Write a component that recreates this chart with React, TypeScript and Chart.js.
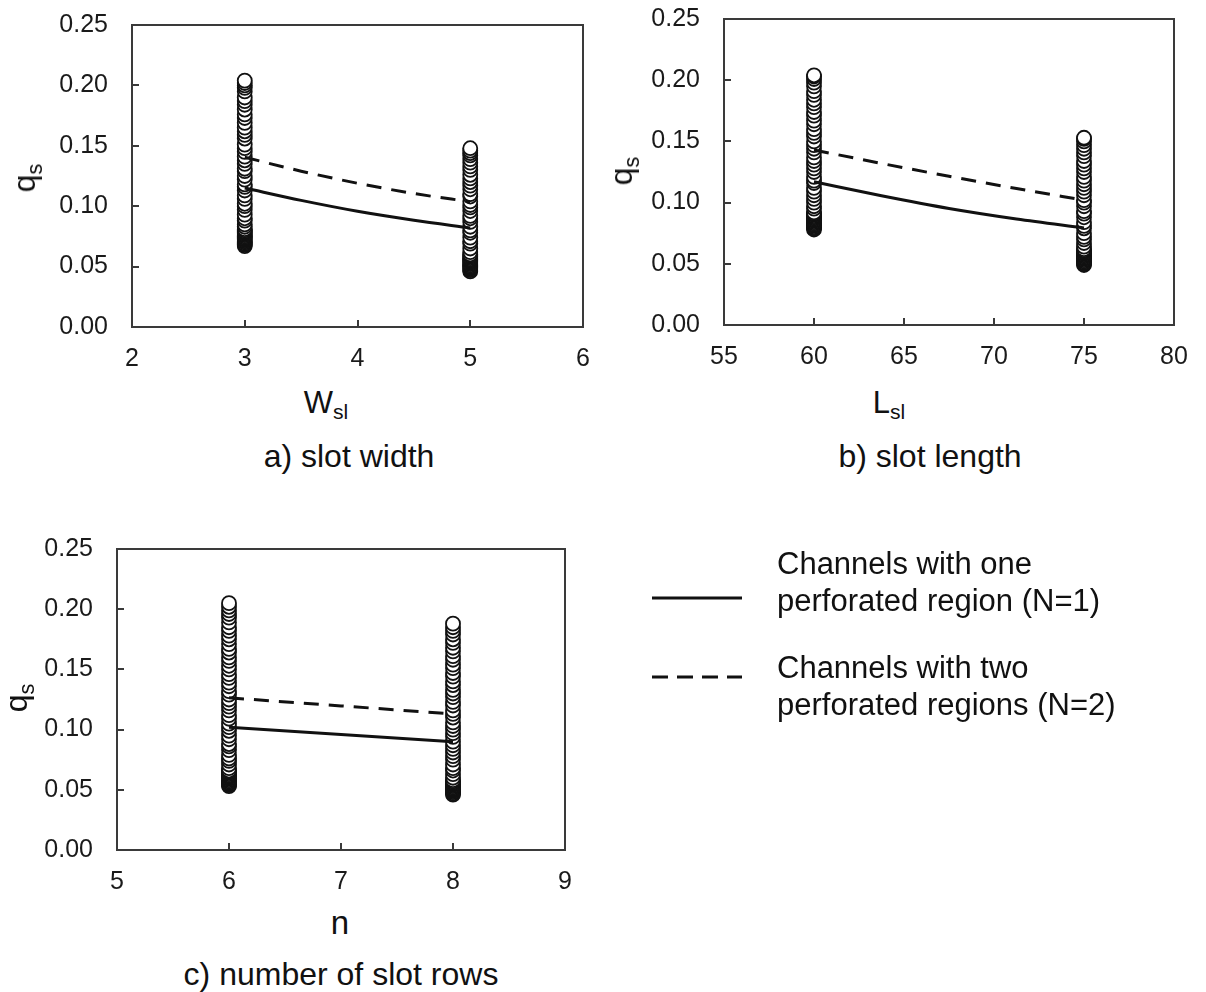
import React, { useEffect, useRef } from "react";
import { Chart, registerables } from "chart.js";

Chart.register(...registerables);

const FONT = "'Liberation Sans', Arial, Helvetica, sans-serif";

// ---------- data ----------
const yTicksMin = 0;
const yTicksMax = 0.25;
const yTickStep = 0.05;

// panel a) slot width
const aXRange = [2, 6];
const aColX = [3, 5];
const aCol3 = [0.067, 0.068, 0.069, 0.070, 0.071, 0.072, 0.073, 0.074, 0.075, 0.076, 0.077, 0.078, 0.079, 0.080, 0.081, 0.083, 0.085, 0.088, 0.090, 0.093, 0.097, 0.100, 0.102, 0.106, 0.109, 0.113, 0.116, 0.118, 0.122, 0.125, 0.129, 0.131, 0.135, 0.138, 0.141, 0.145, 0.148, 0.151, 0.156, 0.159, 0.162, 0.165, 0.169, 0.173, 0.176, 0.180, 0.184, 0.187, 0.190, 0.195, 0.198, 0.200, 0.202, 0.204];
const aCol5 = [0.046, 0.047, 0.048, 0.049, 0.050, 0.051, 0.052, 0.053, 0.054, 0.055, 0.056, 0.057, 0.058, 0.059, 0.060, 0.062, 0.065, 0.069, 0.071, 0.074, 0.078, 0.080, 0.083, 0.087, 0.090, 0.092, 0.096, 0.099, 0.101, 0.104, 0.108, 0.110, 0.114, 0.117, 0.120, 0.123, 0.126, 0.130, 0.133, 0.136, 0.139, 0.142, 0.144, 0.146, 0.148];
const aLineX = [3, 3.5, 4, 4.5, 5];
const aN1 = [0.115, 0.1048, 0.0958, 0.0884, 0.082];
const aN2 = [0.1405, 0.129, 0.119, 0.1105, 0.1037];

// panel b) slot length
const bXRange = [55, 80];
const bColX = [60, 75];
const bCol60 = [0.078, 0.079, 0.080, 0.081, 0.082, 0.083, 0.084, 0.085, 0.086, 0.087, 0.088, 0.089, 0.090, 0.091, 0.092, 0.095, 0.097, 0.100, 0.103, 0.106, 0.109, 0.112, 0.116, 0.118, 0.121, 0.125, 0.128, 0.131, 0.134, 0.137, 0.141, 0.144, 0.147, 0.150, 0.154, 0.157, 0.160, 0.164, 0.167, 0.171, 0.174, 0.178, 0.181, 0.184, 0.188, 0.191, 0.195, 0.198, 0.201, 0.203, 0.204];
const bCol75 = [0.049, 0.050, 0.051, 0.052, 0.053, 0.054, 0.055, 0.056, 0.057, 0.058, 0.059, 0.060, 0.061, 0.062, 0.064, 0.067, 0.070, 0.072, 0.075, 0.079, 0.081, 0.084, 0.088, 0.091, 0.093, 0.097, 0.100, 0.102, 0.106, 0.109, 0.112, 0.115, 0.118, 0.121, 0.125, 0.128, 0.131, 0.134, 0.138, 0.141, 0.144, 0.147, 0.150, 0.152, 0.153];
const bLineX = [60, 63.75, 67.5, 71.25, 75];
const bN1 = [0.117, 0.1056, 0.0952, 0.0866, 0.0793];
const bN2 = [0.143, 0.132, 0.1215, 0.1115, 0.102];

// panel c) number of slot rows
const cXRange = [5, 9];
const cColX = [6, 8];
const cCol6 = [0.053, 0.054, 0.055, 0.056, 0.057, 0.058, 0.059, 0.060, 0.061, 0.062, 0.063, 0.064, 0.065, 0.066, 0.068, 0.071, 0.074, 0.076, 0.079, 0.083, 0.086, 0.088, 0.092, 0.095, 0.099, 0.102, 0.105, 0.109, 0.112, 0.116, 0.119, 0.122, 0.125, 0.129, 0.132, 0.136, 0.139, 0.143, 0.146, 0.150, 0.153, 0.157, 0.160, 0.164, 0.167, 0.171, 0.175, 0.178, 0.182, 0.185, 0.189, 0.193, 0.196, 0.199, 0.202, 0.205];
const cCol8 = [0.046, 0.047, 0.048, 0.049, 0.050, 0.051, 0.052, 0.053, 0.054, 0.055, 0.056, 0.057, 0.058, 0.060, 0.063, 0.066, 0.068, 0.071, 0.075, 0.078, 0.081, 0.084, 0.087, 0.090, 0.094, 0.097, 0.100, 0.103, 0.106, 0.110, 0.113, 0.116, 0.120, 0.123, 0.127, 0.130, 0.133, 0.137, 0.140, 0.144, 0.147, 0.151, 0.154, 0.158, 0.161, 0.165, 0.168, 0.172, 0.175, 0.179, 0.182, 0.185, 0.188];
const cLineX = [6, 7, 8];
const cN1 = [0.102, 0.096, 0.090];
const cN2 = [0.1264, 0.1197, 0.113];

const legendLabels = [
  ["Channels with one", "perforated region (N=1)"],
  ["Channels with two", "perforated regions (N=2)"],
];

// ---------- layout ----------
const Y_AXIS_W = 110;
const X_AXIS_H = 50;
const PAD_TOP = 45;
const PAD_RIGHT = 32;

const framePlugin = {
  id: "frame",
  afterDraw(chart: any) {
    const { ctx, chartArea: a, scales } = chart;
    const x = scales.x;
    const y = scales.y;
    ctx.save();
    ctx.strokeStyle = "#3a3a3a";
    ctx.lineWidth = 2;
    ctx.strokeRect(a.left, a.top, a.right - a.left, a.bottom - a.top);
    ctx.beginPath();
    y.ticks.forEach((t: any) => {
      if (t.value > y.min + 1e-9 && t.value < y.max - 1e-9) {
        const py = Math.round(y.getPixelForValue(t.value));
        ctx.moveTo(a.left, py);
        ctx.lineTo(a.left + 7, py);
      }
    });
    x.ticks.forEach((t: any) => {
      if (t.value > x.min + 1e-9 && t.value < x.max - 1e-9) {
        const px = Math.round(x.getPixelForValue(t.value));
        ctx.moveTo(px, a.bottom);
        ctx.lineTo(px, a.bottom - 7);
      }
    });
    ctx.stroke();
    ctx.restore();
  },
};

type PanelProps = {
  L: number; R: number; T: number; B: number;
  xRange: number[];
  xStep: number;
  cols: { x: number; ys: number[] }[];
  lineX: number[];
  n1: number[];
  n2: number[];
  curved: boolean;
};

function Panel(p: PanelProps) {
  const ref = useRef<HTMLCanvasElement | null>(null);
  const width = Y_AXIS_W + (p.R - p.L) + PAD_RIGHT;
  const height = PAD_TOP + (p.B - p.T) + X_AXIS_H;
  useEffect(() => {
    if (!ref.current) return;
    const colSets = p.cols.map((c) => ({
      type: "scatter" as const,
      data: c.ys.map((v) => ({ x: c.x, y: v })),
      backgroundColor: "#ffffff",
      borderColor: "#111111",
      borderWidth: 1.8,
      pointRadius: 7,
      pointHoverRadius: 7,
      showLine: false,
      order: 2,
    }));
    const mkLine = (ys: number[], dash: number[]) => ({
      type: "line" as const,
      data: ys.map((v, i) => ({ x: p.lineX[i], y: v })),
      borderColor: "#111111",
      borderWidth: 3,
      borderDash: dash,
      pointRadius: 0,
      fill: false,
      cubicInterpolationMode: p.curved ? ("monotone" as const) : ("default" as const),
      tension: 0,
      order: 1,
    });
    const chart = new Chart(ref.current, {
      type: "scatter",
      data: {
        datasets: [mkLine(p.n1, []), mkLine(p.n2, [15, 10]), ...colSets] as any,
      },
      options: {
        animation: false,
        responsive: false,
        devicePixelRatio: 1,
        layout: { padding: { top: PAD_TOP, right: PAD_RIGHT, left: 0, bottom: 0 } },
        plugins: { legend: { display: false }, tooltip: { enabled: false } },
        events: [],
        scales: {
          x: {
            type: "linear",
            min: p.xRange[0],
            max: p.xRange[1],
            grid: { display: false, drawTicks: false },
            border: { display: false },
            ticks: {
              stepSize: p.xStep,
              padding: 17,
              color: "#1a1a1a",
              font: { family: FONT, size: 25 },
              maxRotation: 0,
              autoSkip: false,
            },
            afterFit: (s: any) => { s.height = X_AXIS_H; },
          },
          y: {
            type: "linear",
            min: yTicksMin,
            max: yTicksMax,
            grid: { display: false, drawTicks: false },
            border: { display: false },
            ticks: {
              stepSize: yTickStep,
              padding: 24,
              color: "#1a1a1a",
              font: { family: FONT, size: 25 },
              callback: (v: any) => Number(v).toFixed(2),
            },
            afterFit: (s: any) => { s.width = Y_AXIS_W; },
          },
        },
      },
      plugins: [framePlugin],
    });
    return () => chart.destroy();
  }, []);
  return (
    <canvas
      ref={ref}
      width={width}
      height={height}
      style={{
        position: "absolute",
        left: p.L - Y_AXIS_W,
        top: p.T - PAD_TOP,
        width,
        height,
      }}
    />
  );
}

const txtBase: React.CSSProperties = {
  position: "absolute",
  fontFamily: FONT,
  color: "#111",
  whiteSpace: "nowrap",
  lineHeight: 1,
};

function CText(props: { x: number; y: number; size: number; rotate?: boolean; children: React.ReactNode }) {
  return (
    <div
      style={{
        ...txtBase,
        left: props.x,
        top: props.y,
        fontSize: props.size,
        transform: `translate(-50%, -50%)${props.rotate ? " rotate(-90deg)" : ""}`,
      }}
    >
      {props.children}
    </div>
  );
}

const Sub = (props: { children: React.ReactNode }) => (
  <span style={{ fontSize: "0.68em", position: "relative", top: "0.3em" }}>{props.children}</span>
);

export default function App() {
  return (
    <div style={{ position: "absolute", left: 0, top: 0, width: 1206, height: 992, background: "#fff", overflow: "hidden" }}>
      <Panel L={132} R={583} T={25} B={327} xRange={aXRange} xStep={1}
        cols={[{ x: aColX[0], ys: aCol3 }, { x: aColX[1], ys: aCol5 }]}
        lineX={aLineX} n1={aN1} n2={aN2} curved={true} />
      <Panel L={724} R={1174} T={19} B={325} xRange={bXRange} xStep={5}
        cols={[{ x: bColX[0], ys: bCol60 }, { x: bColX[1], ys: bCol75 }]}
        lineX={bLineX} n1={bN1} n2={bN2} curved={true} />
      <Panel L={117} R={565} T={549} B={850} xRange={cXRange} xStep={1}
        cols={[{ x: cColX[0], ys: cCol6 }, { x: cColX[1], ys: cCol8 }]}
        lineX={cLineX} n1={cN1} n2={cN2} curved={false} />

      <CText x={326} y={402} size={31}>W<Sub>sl</Sub></CText>
      <CText x={889} y={402} size={31}>L<Sub>sl</Sub></CText>
      <CText x={340} y={922} size={33}>n</CText>

      <CText x={24} y={178} size={32} rotate>q<Sub>s</Sub></CText>
      <CText x={621} y={171} size={32} rotate>q<Sub>s</Sub></CText>
      <CText x={16} y={698} size={32} rotate>q<Sub>s</Sub></CText>

      <CText x={349} y={456} size={32}>a) slot width</CText>
      <CText x={930} y={456} size={32}>b) slot length</CText>
      <CText x={341} y={974} size={32}>c) number of slot rows</CText>

      <svg style={{ position: "absolute", left: 0, top: 0 }} width={1206} height={992}>
        <line x1={652} y1={598} x2={742} y2={598} stroke="#111" strokeWidth={3} />
        <line x1={652} y1={677} x2={742} y2={677} stroke="#111" strokeWidth={3} strokeDasharray="16 9" />
      </svg>
      {legendLabels.map((lines, i) => (
        <div key={i} style={{ ...txtBase, left: 777, top: i === 0 ? 545 : 649, fontSize: 31, lineHeight: "37px" }}>
          {lines.map((l, j) => (<div key={j}>{l}</div>))}
        </div>
      ))}
    </div>
  );
}
